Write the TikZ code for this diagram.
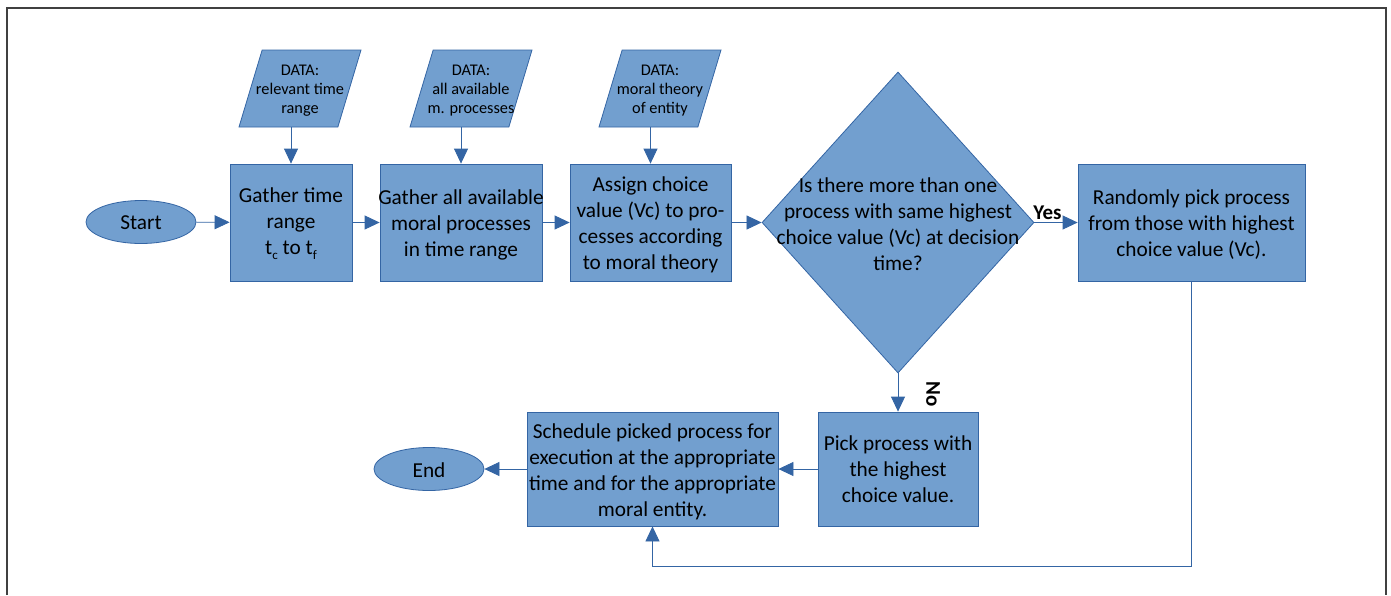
\documentclass[tikz,border=0pt]{standalone}
\usepackage{fontspec}
\setmainfont{Carlito}
\usetikzlibrary{shapes.geometric,arrows.meta}
\definecolor{fillb}{RGB}{114,159,207}
\definecolor{lineb}{RGB}{52,101,164}
\newcommand{\lowsub}[1]{\raisebox{-5pt}{\fontsize{13}{13}\selectfont #1}}
\begin{document}
\begin{tikzpicture}[x=1pt,y=-1pt,
  proc/.style={draw=lineb, fill=fillb, line width=0.8pt, rectangle, inner sep=0pt},
  term/.style={draw=lineb, fill=fillb, line width=0.8pt, ellipse, inner sep=0pt, minimum width=110pt, minimum height=43pt},
  dat/.style={draw=lineb, fill=fillb, line width=0.8pt, trapezium, trapezium left angle=73, trapezium right angle=107, trapezium stretches=true, inner sep=2pt, minimum width=122pt, minimum height=77pt},
  dia/.style={draw=lineb, fill=fillb, line width=0.8pt, diamond, inner sep=2pt, minimum width=272pt, minimum height=301pt},
  txt/.style={font=\fontsize{21.3}{26}\selectfont, align=center, text=black, inner sep=0pt, yshift=-2pt},
  dtxt/.style={font=\fontsize{16.3}{19}\selectfont, align=center, text=black, inner sep=0pt, yshift=-2pt},
  lbl/.style={font=\fontsize{21}{22}\selectfont\bfseries, text=black, inner sep=0pt},
  arr/.style={draw=lineb, line width=0.8pt, -{Triangle[length=15pt,width=14pt]}},
  frame/.style={draw=black!75, line width=1.3pt}
]
\useasboundingbox (0,0) rectangle (1391,595);
\draw[frame] (7,595) -- (7,8) -- (1386,8) -- (1386,595);

% terminals
\node[term] (start) at (141,222) {};
\node[txt, yshift=1pt] at (start) {Start};
\node[term] (end) at (429,469) {};
\node[txt, yshift=1pt] at (end) {End};

% process boxes
\node[proc, minimum width=122pt, minimum height=117pt] (b1) at (291,222.5) {};
\node[txt, yshift=1pt] at (b1) {Gather time\\range\\t\lowsub{c} to t\lowsub{f}};
\node[proc, minimum width=162pt, minimum height=117pt] (b2) at (461,222.5) {};
\node[txt] at (b2) {Gather all available\\moral processes\\in time range};
\node[proc, minimum width=161pt, minimum height=117pt] (b3) at (650.5,222.5) {};
\node[txt] at (b3) {Assign choice\\value (Vc) to pro-\\cesses according\\to moral theory};
\node[proc, minimum width=227pt, minimum height=117pt] (b4) at (1191.5,222.5) {};
\node[txt] at (b4) {Randomly pick process\\from those with highest\\choice value (Vc).};
\node[proc, minimum width=160pt, minimum height=114pt] (b5) at (898,469) {};
\node[txt, yshift=2pt] at (b5) {Pick process with\\the highest\\choice value.};
\node[proc, minimum width=251pt, minimum height=114pt] (b6) at (652.5,469) {};
\node[txt, yshift=-1pt] at (b6) {Schedule picked process for\\execution at the appropriate\\time and for the appropriate\\moral entity.};

% decision
\node[dia] (q) at (898,222.5) {};
\node[txt] at (q) {Is there more than one\\process with same highest\\choice value (Vc) at decision\\time?};

% data
\node[dat] (d1) at (300,88.5) {};
\node[dtxt] at (d1) {DATA:\\relevant time\\range};
\node[dat] (d2) at (471,88.5) {};
\node[dtxt] at (d2) {DATA:\\all available\\m. processes};
\node[dat] (d3) at (660,88.5) {};
\node[dtxt] at (d3) {DATA:\\moral theory\\of entity};

% connectors
\draw[arr] (b1.north |- d1.south) -- (b1.north);
\draw[arr] (b2.north |- d2.south) -- (b2.north);
\draw[arr] (b3.north |- d3.south) -- (b3.north);
\draw[arr] (start) -- (b1);
\draw[arr] (b1) -- (b2);
\draw[arr] (b2) -- (b3);
\draw[arr] (b3) -- (q);
\draw[arr] (q.east) -- node[lbl, pos=0.3, above=2pt] {Yes} (b4.west);
\draw[arr] (q.south) -- node[lbl, pos=0.55, xshift=35pt, rotate=-90] {No} (b5.north);
\draw[arr] (b5) -- (b6);
\draw[arr] (b6) -- (end);
\draw[arr] (b4.south) -- ++(0,285) -| (b6.south);
\end{tikzpicture}
\end{document}
